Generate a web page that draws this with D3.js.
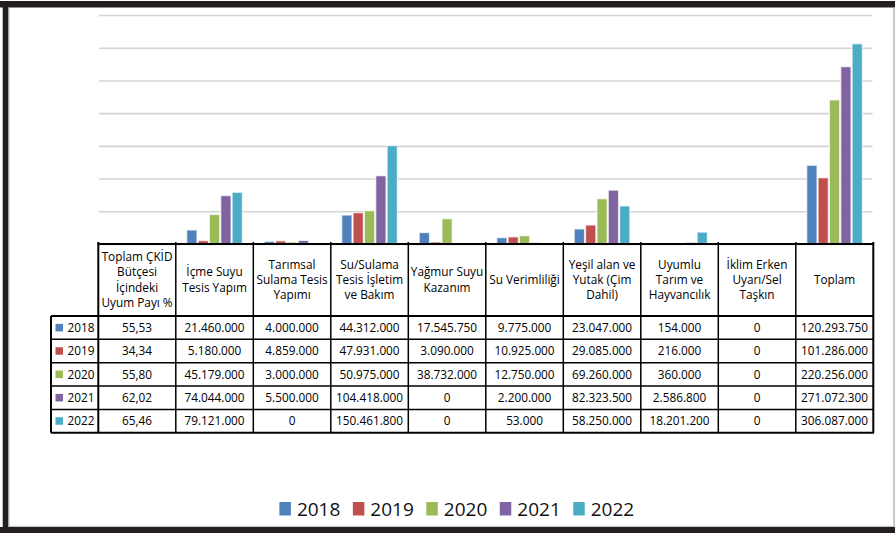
<!DOCTYPE html>
<html>
<head>
<meta charset="utf-8">
<script src="https://cdn.jsdelivr.net/npm/d3@7"></script>
<style>
  html, body { margin: 0; padding: 0; background: #fff; }
  svg { display: block; }
  text { font-family: "Open Sans", "Noto Sans", sans-serif; }
</style>
</head>
<body>
<div id="chart"></div>
<script>
// ---------------- DATA ----------------
const years = ["2018", "2019", "2020", "2021", "2022"];
const categories = [
  "Toplam ÇKİD Bütçesi İçindeki Uyum Payı %",
  "İçme Suyu Tesis Yapım",
  "Tarımsal Sulama Tesis Yapımı",
  "Su/Sulama Tesis İşletim ve Bakım",
  "Yağmur Suyu Kazanım",
  "Su Verimliliği",
  "Yeşil alan ve Yutak (Çim Dahil)",
  "Uyumlu Tarım ve Hayvancılık",
  "İklim Erken Uyarı/Sel Taşkın",
  "Toplam"
];
const categoryLines = [
  ["Toplam ÇKİD", "Bütçesi", "İçindeki", "Uyum Payı %"],
  ["İçme Suyu", "Tesis Yapım"],
  ["Tarımsal", "Sulama Tesis", "Yapımı"],
  ["Su/Sulama", "Tesis İşletim", "ve Bakım"],
  ["Yağmur Suyu", "Kazanım"],
  ["Su Verimliliği"],
  ["Yeşil alan ve", "Yutak (Çim", "Dahil)"],
  ["Uyumlu", "Tarım ve", "Hayvancılık"],
  ["İklim Erken", "Uyarı/Sel", "Taşkın"],
  ["Toplam"]
];
const values2018 = [55.53, 21460000, 4000000, 44312000, 17545750, 9775000, 23047000, 154000, 0, 120293750];
const values2019 = [34.34, 5180000, 4859000, 47931000, 3090000, 10925000, 29085000, 216000, 0, 101286000];
const values2020 = [55.80, 45179000, 3000000, 50975000, 38732000, 12750000, 69260000, 360000, 0, 220256000];
const values2021 = [62.02, 74044000, 5500000, 104418000, 0, 2200000, 82323500, 2586800, 0, 271072300];
const values2022 = [65.46, 79121000, 0, 150461800, 0, 53000, 58250000, 18201200, 0, 306087000];
const seriesValues = [values2018, values2019, values2020, values2021, values2022];
const colors = ["#4F81BD", "#C0504D", "#9BBB59", "#8064A2", "#4BACC6"];
const yMax = 350000000;
const yTickStep = 50000000;

// ---------------- LAYOUT ----------------
const W = 895, H = 533;
const plotLeft = 98.3, plotRight = 873.3, plotTop = 15, plotBottom = 244;
const keyColLeft = 51;
const headerBottom = 316;
const rowH = 23.35;
const tableFont = 11.8;

const svg = d3.select("#chart").append("svg")
  .attr("width", W).attr("height", H);

svg.append("rect").attr("width", W).attr("height", H).attr("fill", "#fff");

const x0 = d3.scaleBand().domain(categories).range([plotLeft, plotRight]).paddingInner(0).paddingOuter(0);
const x1 = d3.scaleBand().domain(years).range([0, x0.bandwidth()]).paddingInner(0).paddingOuter(0.916);
const y = d3.scaleLinear().domain([0, yMax]).range([plotBottom, plotTop]);

// gridlines
const yAxis = d3.axisLeft(y).tickValues(d3.range(0, yMax + 1, yTickStep))
  .tickSize(-(plotRight - plotLeft - 1.5)).tickFormat("");
const gy = svg.append("g").attr("transform", `translate(${plotLeft + 0.7},0)`).call(yAxis);
gy.select(".domain").remove();
gy.selectAll(".tick line").attr("stroke", "#D4D4D4").attr("stroke-width", 1.6);

// bars
const barData = [];
seriesValues.forEach((vals, si) => {
  vals.forEach((v, ci) => barData.push({ year: years[si], cat: categories[ci], v, si }));
});
svg.append("g").selectAll("rect").data(barData).join("rect")
  .attr("x", d => x0(d.cat) + x1(d.year) + 0.5)
  .attr("width", x1.bandwidth() - 1)
  .attr("y", d => y(d.v))
  .attr("height", d => Math.max(0, plotBottom - y(d.v)))
  .attr("fill", d => colors[d.si])
  .attr("stroke", "#fff").attr("stroke-width", 1.3).attr("stroke-opacity", 0.7);

// ---------------- DATA TABLE ----------------
const trFmt = d3.formatLocale({ decimal: ",", thousands: ".", grouping: [3], currency: ["", ""] });
const fmtPct = trFmt.format(",.2f");
const fmtInt = trFmt.format(",d");

const tbl = svg.append("g");
const tableBottom = headerBottom + rowH * years.length;

// header text
categories.forEach((c, ci) => {
  const lines = categoryLines[ci];
  const cx = x0(c) + x0.bandwidth() / 2;
  const lh = 15.4;
  const cy = 280;
  lines.forEach((ln, li) => {
    tbl.append("text")
      .attr("x", cx)
      .attr("y", cy + (li - (lines.length - 1) / 2) * lh + 4)
      .attr("text-anchor", "middle")
      .attr("font-size", tableFont)
      .attr("fill", "#000")
      .text(ln);
  });
});

// rows
years.forEach((yr, si) => {
  const rTop = headerBottom + si * rowH;
  const cy = rTop + rowH / 2;
  tbl.append("rect").attr("x", 55.5).attr("y", cy - 3.8).attr("width", 7.5).attr("height", 7.5)
    .attr("fill", colors[si]);
  tbl.append("text").attr("x", 67.5).attr("y", cy + 4.2)
    .attr("font-size", tableFont).attr("fill", "#000").text(yr);
  seriesValues[si].forEach((v, ci) => {
    tbl.append("text")
      .attr("x", x0(categories[ci]) + x0.bandwidth() / 2)
      .attr("y", cy + 4.2)
      .attr("text-anchor", "middle")
      .attr("font-size", tableFont).attr("fill", "#000")
      .text(ci === 0 ? fmtPct(v) : fmtInt(v));
  });
});

// table grid lines
const lineStyle = sel => sel.attr("stroke", "#000").attr("stroke-width", 1.5);
// horizontal
tbl.append("line").attr("x1", plotLeft - 0.7).attr("x2", plotRight + 0.7)
  .attr("y1", plotBottom).attr("y2", plotBottom).call(lineStyle).attr("stroke-width", 2);
for (let i = 0; i <= years.length; i++) {
  const yy = headerBottom + i * rowH;
  tbl.append("line").attr("x1", keyColLeft).attr("x2", plotRight + 0.7)
    .attr("y1", yy).attr("y2", yy).call(lineStyle)
    .attr("stroke-width", (i === 0 || i === years.length) ? 2 : 1.5);
}
// vertical
categories.forEach((c, ci) => {
  tbl.append("line").attr("x1", x0(c)).attr("x2", x0(c))
    .attr("y1", plotBottom - 2).attr("y2", tableBottom).call(lineStyle)
    .attr("stroke-width", ci === 0 ? 2 : 1.5);
});
tbl.append("line").attr("x1", plotRight).attr("x2", plotRight)
  .attr("y1", plotBottom - 2).attr("y2", tableBottom).call(lineStyle).attr("stroke-width", 2);
tbl.append("line").attr("x1", keyColLeft).attr("x2", keyColLeft)
  .attr("y1", headerBottom).attr("y2", tableBottom).call(lineStyle).attr("stroke-width", 2);

// ---------------- LEGEND ----------------
const leg = svg.append("g");
let lx = 0;
years.forEach((yr, si) => {
  const g = leg.append("g");
  g.append("rect").attr("x", 0).attr("y", -13.5).attr("width", 11.5).attr("height", 13.5)
    .attr("fill", colors[si]);
  const t = g.append("text").attr("x", 17.5).attr("y", 0).attr("font-size", 19)
    .attr("fill", "#111").text(yr);
  const tw = t.node().getComputedTextLength();
  g.attr("transform", `translate(${lx},0)`);
  lx += 17.5 + tw + (si < years.length - 1 ? 12.5 : 0);
});
leg.attr("transform", `translate(${456.8 - lx / 2},515.5)`);

// ---------------- FRAME ----------------
const frameColor = "#231F20";
svg.append("rect").attr("x", 0).attr("y", 1).attr("width", W).attr("height", 6.5).attr("fill", frameColor);
svg.append("rect").attr("x", 2.7).attr("y", 1).attr("width", 5.8).attr("height", H - 1).attr("fill", frameColor);
svg.append("rect").attr("x", 0).attr("y", 527).attr("width", W).attr("height", 6).attr("fill", frameColor);
svg.append("line").attr("x1", 894).attr("x2", 894).attr("y1", 7.5).attr("y2", 527)
  .attr("stroke", "#A6A6A6").attr("stroke-width", 1.2);
svg.append("line").attr("x1", 9).attr("x2", 9).attr("y1", 7.5).attr("y2", 527)
  .attr("stroke", "#BDBDBD").attr("stroke-width", 1);
svg.append("line").attr("x1", 8.5).attr("x2", 894).attr("y1", 526.3).attr("y2", 526.3)
  .attr("stroke", "#BDBDBD").attr("stroke-width", 1);
</script>
</body>
</html>
